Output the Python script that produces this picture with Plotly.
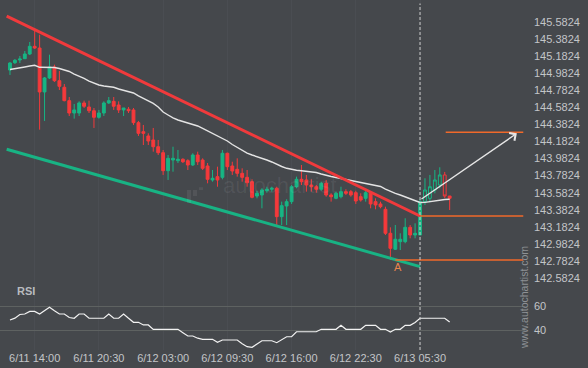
import plotly.graph_objects as go

# ---------------- data ----------------
bar_index = list(range(90))

opens = [145.020, 145.106, 145.138, 145.153, 145.208, 145.298, 145.278, 144.763, 144.927, 145.056,
         144.895, 144.818, 144.661, 144.516, 144.516, 144.634, 144.587, 144.543, 144.466, 144.516,
         144.634, 144.653, 144.610, 144.552, 144.560, 144.552, 144.403, 144.297, 144.247, 144.200,
         144.121, 144.051, 143.840, 143.965, 143.957, 143.974, 143.957, 143.907, 144.024, 143.965,
         143.895, 143.731, 143.770, 143.762, 144.044, 143.895, 143.856, 143.809, 143.762, 143.711,
         143.543, 143.555, 143.605, 143.622, 143.634, 143.301, 143.426, 143.477, 143.652, 143.739,
         143.731, 143.672, 143.652, 143.622, 143.692, 143.555, 143.516, 143.535, 143.594, 143.594,
         143.582, 143.535, 143.516, 143.575, 143.477, 143.450, 143.387, 143.106, 142.919, 143.008,
         143.008, 143.176, 143.086, 143.086, 143.477, 143.516, 143.614, 143.672, 143.790, 143.543]
highs = [145.114, 145.149, 145.185, 145.243, 145.349, 145.481, 145.434, 144.938, 145.200, 145.083,
         145.009, 144.856, 144.704, 144.622, 144.653, 144.661, 144.661, 144.575, 144.552, 144.653,
         144.704, 144.704, 144.653, 144.575, 144.587, 144.575, 144.423, 144.376, 144.278, 144.341,
         144.200, 144.083, 144.024, 144.121, 144.083, 143.985, 143.974, 144.044, 144.063, 143.985,
         143.930, 143.848, 143.887, 144.083, 144.051, 143.945, 143.985, 143.868, 143.848, 143.739,
         143.605, 143.634, 143.652, 143.652, 143.652, 143.477, 143.505, 143.672, 143.770, 143.907,
         143.790, 143.739, 143.672, 143.711, 143.731, 143.575, 143.594, 143.652, 143.622, 143.614,
         143.605, 143.575, 143.614, 143.594, 143.516, 143.477, 143.418, 143.176, 143.203, 143.106,
         143.282, 143.203, 143.223, 143.505, 143.751, 143.790, 143.848, 143.880, 143.825, 143.543]
lows = [144.962, 145.091, 145.102, 145.149, 145.196, 145.267, 144.321, 144.423, 144.915, 144.880,
        144.786, 144.653, 144.481, 144.450, 144.481, 144.575, 144.516, 144.341, 144.450, 144.481,
        144.622, 144.552, 144.516, 144.481, 144.516, 144.376, 144.247, 144.141, 144.141, 144.063,
        144.024, 143.790, 143.731, 143.828, 143.930, 143.930, 143.848, 143.895, 143.907, 143.848,
        143.692, 143.711, 143.652, 143.739, 143.848, 143.790, 143.770, 143.711, 143.652, 143.516,
        143.516, 143.399, 143.582, 143.594, 143.192, 143.203, 143.203, 143.450, 143.634, 143.672,
        143.594, 143.594, 143.582, 143.605, 143.535, 143.477, 143.505, 143.516, 143.555, 143.535,
        143.450, 143.477, 143.477, 143.399, 143.387, 143.399, 143.086, 142.793, 142.910, 142.910,
        142.989, 143.047, 143.047, 143.086, 143.438, 143.477, 143.575, 143.634, 143.520, 143.379]
closes = [145.102, 145.134, 145.149, 145.208, 145.298, 145.278, 144.763, 144.927, 145.056, 144.895,
          144.829, 144.661, 144.516, 144.552, 144.634, 144.595, 144.543, 144.466, 144.516, 144.634,
          144.661, 144.595, 144.552, 144.575, 144.543, 144.403, 144.278, 144.278, 144.188, 144.121,
          144.051, 143.840, 143.985, 143.985, 143.974, 143.945, 143.907, 144.024, 143.945, 143.868,
          143.739, 143.751, 143.731, 144.044, 143.887, 143.836, 143.809, 143.762, 143.699, 143.528,
          143.575, 143.614, 143.622, 143.634, 143.301, 143.430, 143.477, 143.652, 143.739, 143.711,
          143.672, 143.652, 143.622, 143.692, 143.555, 143.535, 143.575, 143.594, 143.575, 143.555,
          143.485, 143.496, 143.582, 143.450, 143.438, 143.418, 143.106, 142.930, 143.036, 143.036,
          143.176, 143.086, 143.106, 143.477, 143.614, 143.652, 143.731, 143.790, 143.543, 143.516]

ma_values = [145.026, 145.034, 145.044, 145.056, 145.067, 145.076, 145.052, 145.050, 145.052, 145.050,
             145.038, 145.020, 145.003, 144.973, 144.950, 144.921, 144.891, 144.864, 144.845, 144.833,
             144.823, 144.818, 144.798, 144.780, 144.768, 144.751, 144.716, 144.686, 144.657, 144.628,
             144.587, 144.528, 144.493, 144.458, 144.434, 144.417, 144.399, 144.387, 144.364, 144.335,
             144.305, 144.276, 144.253, 144.223, 144.188, 144.147, 144.112, 144.077, 144.047, 144.024,
             144.006, 143.989, 143.965, 143.942, 143.913, 143.889, 143.868, 143.854, 143.845, 143.839,
             143.834, 143.828, 143.819, 143.801, 143.784, 143.772, 143.760, 143.748, 143.737, 143.725,
             143.716, 143.707, 143.696, 143.684, 143.672, 143.655, 143.625, 143.596, 143.573, 143.555,
             143.534, 143.514, 143.491, 143.467, 143.469, 143.479, 143.487, 143.496, 143.502, 143.505]

rsi_values = [48.5, 50.0, 53.0, 53.4, 55.6, 55.6, 53.4, 56.0, 58.9, 56.0,
              53.4, 53.4, 50.5, 49.9, 53.4, 53.4, 49.9, 49.9, 49.9, 49.9,
              53.4, 49.9, 49.9, 53.4, 49.9, 46.6, 46.6, 44.4, 44.4, 40.8,
              40.8, 40.8, 40.8, 40.8, 40.8, 38.0, 35.3, 35.3, 33.5, 32.6,
              32.6, 32.6, 30.1, 32.0, 32.0, 32.0, 32.0, 29.0, 26.5, 26.0,
              28.5, 31.4, 31.4, 31.4, 29.8, 32.0, 34.7, 34.7, 38.8, 38.8,
              38.8, 38.8, 38.8, 40.8, 40.8, 40.8, 40.8, 44.1, 40.8, 40.8,
              40.8, 40.8, 44.1, 44.1, 44.1, 40.8, 40.8, 38.6, 40.8, 40.8,
              44.1, 44.1, 46.5, 49.9, 49.9, 49.9, 49.9, 49.9, 49.9, 46.8]

time_tick_bars = [5, 18, 31, 44, 57, 70, 83]
time_tick_labels = ["6/11 14:00", "6/11 20:30", "6/12 03:00", "6/12 09:30",
                    "6/12 16:00", "6/12 22:30", "6/13 05:30"]
price_ticks = [145.7824, 145.5824, 145.3824, 145.1824, 144.9824, 144.7824, 144.5824, 144.3824,
               144.1824, 143.9824, 143.7824, 143.5824, 143.3824, 143.1824, 142.9824, 142.7824, 142.5824]
rsi_ticks = [40, 60]

upper_trend_bars = [-0.67, 83]
upper_trend_prices = [145.653, 143.309]
lower_trend_bars = [-0.67, 83]
lower_trend_prices = [144.091, 142.715]

target_level = 144.290
target_start_bar = 88.2
breakout_level = 143.309
breakout_bar = 83
pattern_low_level = 142.793
pattern_low_bar = 78
level_end_bar = 103.9
forecast_bars = [83, 102.6]
forecast_prices = [143.496, 144.278]
point_label = "A"
point_label_bar = 78.5
point_label_price = 142.712

# ---------------- styling ----------------
BG = "#45484c"
GREEN = "#17b584"
RED = "#f5393b"
ORANGE = "#f0692a"
TXT = "#c3c5c8"
FONT = "Liberation Sans, Arial, sans-serif"
hollow_from, hollow_to = 84, 88

fig = go.Figure()

solid = [i for i in bar_index if not (hollow_from <= i <= hollow_to)]
hollow = [i for i in bar_index if hollow_from <= i <= hollow_to]


def sub(lst, idx):
    return [lst[i] for i in idx]


fig.add_trace(go.Candlestick(
    x=sub(bar_index, solid), open=sub(opens, solid), high=sub(highs, solid),
    low=sub(lows, solid), close=sub(closes, solid),
    increasing=dict(line=dict(color=GREEN, width=1), fillcolor=GREEN),
    decreasing=dict(line=dict(color=RED, width=1), fillcolor=RED),
    whiskerwidth=0, hoverinfo="skip", showlegend=False, xaxis="x", yaxis="y"))
fig.add_trace(go.Candlestick(
    x=sub(bar_index, hollow), open=sub(opens, hollow), high=sub(highs, hollow),
    low=sub(lows, hollow), close=sub(closes, hollow),
    increasing=dict(line=dict(color=GREEN, width=1), fillcolor=BG),
    decreasing=dict(line=dict(color=RED, width=1), fillcolor=BG),
    whiskerwidth=0, hoverinfo="skip", showlegend=False, xaxis="x", yaxis="y"))

fig.add_trace(go.Scatter(x=bar_index, y=ma_values, mode="lines",
                         line=dict(color="#e4e4e4", width=1.4), hoverinfo="skip",
                         showlegend=False, xaxis="x", yaxis="y"))
fig.add_trace(go.Scatter(x=bar_index, y=rsi_values, mode="lines",
                         line=dict(color="#f2f2f2", width=1.2, shape="linear"), hoverinfo="skip",
                         showlegend=False, xaxis="x", yaxis="y2", cliponaxis=False))

shapes = []
# trend lines
shapes.append(dict(type="line", xref="x", yref="y", x0=upper_trend_bars[0], y0=upper_trend_prices[0],
                   x1=upper_trend_bars[1], y1=upper_trend_prices[1], line=dict(color="#f03a3c", width=3)))
shapes.append(dict(type="line", xref="x", yref="y", x0=lower_trend_bars[0], y0=lower_trend_prices[0],
                   x1=lower_trend_bars[1], y1=lower_trend_prices[1], line=dict(color="#18b384", width=3)))
# level lines
for x0, lvl in [(target_start_bar, target_level), (breakout_bar, breakout_level),
                (pattern_low_bar, pattern_low_level)]:
    shapes.append(dict(type="line", xref="x", yref="y", x0=x0, x1=level_end_bar, y0=lvl, y1=lvl,
                       line=dict(color=ORANGE, width=1.5)))
# vertical dashed line at breakout
shapes.append(dict(type="line", xref="x", yref="paper", x0=breakout_bar, x1=breakout_bar, y0=0, y1=0.99,
                   line=dict(color="#cfcfcf", width=1, dash="3px,2px")))
# faint logo bars of watermark
for bx0, bx1, by1 in [(187, 191, 0.42), (193, 197, 0.44), (199, 203, 0.465)]:
    shapes.append(dict(type="rect", xref="paper", yref="paper", x0=bx0 / 525, x1=bx1 / 525,
                       y0=(350 - 190) / 350, y1=by1, line=dict(width=0),
                       fillcolor="rgba(255,255,255,0.07)"))

annotations = [
    dict(x=forecast_bars[1], y=forecast_prices[1], ax=forecast_bars[0], ay=forecast_prices[0],
         xref="x", yref="y", axref="x", ayref="y", showarrow=True, arrowhead=4, arrowsize=1.3,
         arrowwidth=1.4, arrowcolor="#e6e6e6", text=""),
    dict(x=point_label_bar, y=point_label_price, xref="x", yref="y", text=point_label, showarrow=False,
         font=dict(family=FONT, size=11, color="#e8844c"), xanchor="center", yanchor="middle"),
    dict(x=15 / 525, y=(350 - 291) / 350, xref="paper", yref="paper", text="<b>RSI</b>", showarrow=False,
         font=dict(family=FONT, size=11, color="#b8bbbf"), xanchor="left", yanchor="middle"),
    dict(x=280 / 525, y=(350 - 185) / 350, xref="paper", yref="paper", text="autochartist", showarrow=False,
         font=dict(family=FONT, size=22, color="rgba(255,255,255,0.07)"), xanchor="center", yanchor="middle"),
    dict(x=524 / 525, y=(350 - 298) / 350, xref="paper", yref="paper", text="www.autochartist.com",
         showarrow=False, textangle=-90, font=dict(family=FONT, size=10.5, color="#8e9195"),
         xanchor="center", yanchor="middle"),
]

fig.update_layout(
    width=588, height=368,
    margin=dict(l=0, r=63, t=0, b=18),
    paper_bgcolor=BG, plot_bgcolor=BG,
    boxgap=0.18,
    showlegend=False,
    hovermode=False,
    font=dict(family=FONT, size=11, color=TXT),
    shapes=shapes,
    annotations=annotations,
    xaxis=dict(range=[-2.02, 104.25], anchor="y2", domain=[0, 1],
               tickvals=time_tick_bars, ticktext=time_tick_labels,
               showgrid=True, gridcolor="#4a4d52", gridwidth=1, zeroline=False,
               ticks="", showline=False, rangeslider=dict(visible=False),
               tickfont=dict(family=FONT, size=11, color=TXT)),
    yaxis=dict(domain=[68 / 350, 1], range=[142.535, 145.841], side="right", anchor="x",
               tickvals=price_ticks, tickformat=".4f", showgrid=False, zeroline=False,
               ticks="", ticklabelstandoff=8, tickfont=dict(family=FONT, size=11, color=TXT)),
    yaxis2=dict(domain=[0, 68 / 350], range=[23.79, 79.75], side="right", anchor="x",
                tickvals=rsi_ticks, showgrid=True, gridcolor="#5e6261", gridwidth=1, zeroline=False,
                ticks="", ticklabelstandoff=8, tickfont=dict(family=FONT, size=11, color=TXT)),
)

fig.write_html(
    "out.html",
    config={"displayModeBar": False, "staticPlot": True},
    post_script="document.body.style.margin='0';document.body.style.overflow='hidden';"
                "document.body.style.background='" + BG + "';",
)
